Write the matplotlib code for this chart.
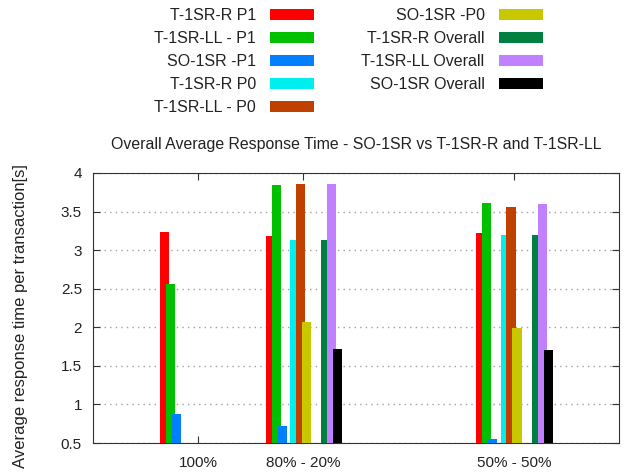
import numpy as np
import matplotlib
matplotlib.use("Agg")
import matplotlib.pyplot as plt

plt.rcParams['font.family'] = ['Liberation Sans', 'DejaVu Sans']

# x categories and where they sit on the axis
categories = ['100%', '80% - 20%', '50% - 50%']
cat_x = [0, 1, 3]

series = ['T-1SR-R P1', 'T-1SR-LL - P1', 'SO-1SR -P1',
          'T-1SR-R P0', 'T-1SR-LL - P0', 'SO-1SR -P0',
          'T-1SR-R Overall', 'T-1SR-LL Overall', 'SO-1SR Overall']

# values per series: [100%, 80-20, 50-50]
t1srr_p1 = [3.23, 3.18, 3.22]
t1srll_p1 = [2.565, 3.84, 3.615]
so1sr_p1 = [0.876, 0.72, 0.55]
t1srr_p0 = [0, 3.135, 3.19]
t1srll_p0 = [0, 3.854, 3.565]
so1sr_p0 = [0, 2.07, 1.995]
t1srr_all = [0, 3.135, 3.20]
t1srll_all = [0, 3.854, 3.594]
so1sr_all = [0, 1.72, 1.71]

values = [t1srr_p1, t1srll_p1, so1sr_p1, t1srr_p0, t1srll_p0, so1sr_p0,
          t1srr_all, t1srll_all, so1sr_all]

colors = ['#ff0000', '#00c000', '#0080ff', '#00eeee', '#c04000',
          '#c8c800', '#008040', '#c080ff', '#000000']
offsets = [-0.36, -0.303, -0.246, -0.126, -0.069, -0.012, 0.17, 0.227, 0.284]
width = 0.086

fig = plt.figure(figsize=(6.29, 4.72), dpi=100)
ax = fig.add_axes([0.1479, 0.0614, 0.8361, 0.5721])

x = np.array(cat_x, dtype=float)
for vals, col, off, lab in zip(values, colors, offsets, series):
    ax.bar(x + off, vals, width=width, align='edge', color=col,
           label=lab, zorder=3)

ax.set_xlim(-1, 4)
ax.set_ylim(0.5, 4)
ax.set_xticks(cat_x)
ax.set_xticklabels(categories)
ax.set_yticks(np.arange(0.5, 4.01, 0.5))
ax.set_yticklabels(['0.5', '1', '1.5', '2', '2.5', '3', '3.5', '4'])
ax.tick_params(direction='in', top=True, right=True, length=5,
               labelsize=11, colors='#333333', labelcolor='#222222')
ax.tick_params(axis='y', pad=8)
ax.tick_params(axis='x', pad=9)
ax.yaxis.grid(True, linestyle=(0, (1, 3)), color='#a0a0a0', linewidth=1)
for s in ax.spines.values():
    s.set_color('#333333')
    s.set_linewidth(0.8)

ax.set_ylabel('Average response time per transaction[s]', fontsize=12,
              color='#222222')
ax.yaxis.set_label_coords(-0.124, 0.472)
ax.set_title('Overall Average Response Time - SO-1SR vs T-1SR-R and T-1SR-LL',
             fontsize=11.4, color='#222222', pad=17)

fig.legend(loc='upper left', bbox_to_anchor=(0.222, 1.013), ncol=2,
           frameon=False, markerfirst=False, fontsize=11.5,
           handlelength=2.8, handleheight=0.63, handletextpad=0.87,
           labelspacing=0.5, columnspacing=2.95, labelcolor='#222222')

fig.savefig('out.png', dpi=100)
